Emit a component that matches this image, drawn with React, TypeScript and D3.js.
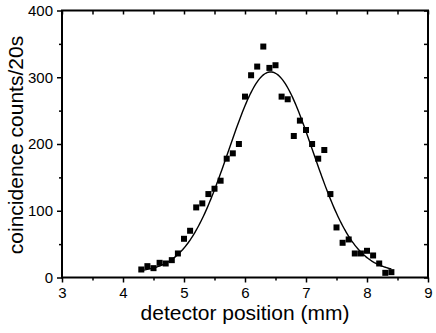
import React, { useRef, useEffect } from 'react'
import * as d3 from 'd3'

// detector position (mm) and counts per 20 s
const positions = [
  4.3, 4.4, 4.5, 4.6, 4.7, 4.8, 4.9, 5.0, 5.1, 5.2, 5.3, 5.4, 5.5, 5.6,
  5.7, 5.8, 5.9, 6.0, 6.1, 6.2, 6.3, 6.4, 6.5, 6.6, 6.7, 6.8, 6.9, 7.0,
  7.1, 7.2, 7.3, 7.4, 7.5, 7.6, 7.7, 7.8, 7.9, 8.0, 8.1, 8.2, 8.3, 8.4,
]
const counts = [
  12, 17, 14, 22, 21, 26, 36, 58, 70, 105, 111, 125, 133, 145,
  178, 186, 200, 271, 303, 316, 346, 314, 318, 271, 267, 212, 235, 221,
  200, 178, 191, 125, 75, 52, 57, 36, 36, 40, 33, 21, 7, 8,
]

// gaussian fit: y0 + A * exp(-(x - xc)^2 / (2 w^2))
const fit = { y0: 8, A: 300, xc: 6.42, w: 0.69, from: 4.3, to: 8.4 }

const xTicks = [3, 4, 5, 6, 7, 8, 9]
const yTicks = [0, 100, 200, 300, 400]

const xLabel = 'detector position (mm)'
const yLabel = 'coincidence counts/20s'

const App = () => {
  const ref = useRef<SVGSVGElement>(null)

  useEffect(() => {
    const W = 436
    const H = 333
    const left = 62, right = 428, top = 10.5, bottom = 277.5
    const font = '"Liberation Sans", Arial, sans-serif'

    const svg = d3.select(ref.current)
    svg.selectAll('*').remove()

    const x = d3.scaleLinear().domain([3, 9]).range([left, right])
    const y = d3.scaleLinear().domain([0, 400]).range([bottom, top])

    const xMinor = d3.range(3, 9.01, 0.5).filter(v => !xTicks.includes(v))
    const yMinor = d3.range(0, 401, 50).filter(v => !yTicks.includes(v))

    // bottom axis, ticks out
    const gx = svg.append('g').attr('transform', `translate(0, ${bottom})`)
      .call(d3.axisBottom(x).tickValues(xTicks).tickSize(5).tickPadding(5).tickFormat(d3.format('d')))
    gx.select('.domain').remove()
    gx.selectAll('text').attr('font-size', 15).attr('font-family', font)
    svg.append('g').attr('transform', `translate(0, ${bottom})`)
      .call(d3.axisBottom(x).tickValues(xMinor).tickSize(3).tickFormat(() => ''))
      .select('.domain').remove()

    // left axis, ticks out
    const gy = svg.append('g').attr('transform', `translate(${left}, 0)`)
      .call(d3.axisLeft(y).tickValues(yTicks).tickSize(5).tickPadding(4))
    gy.select('.domain').remove()
    gy.selectAll('text').attr('font-size', 15).attr('font-family', font)
    svg.append('g').attr('transform', `translate(${left}, 0)`)
      .call(d3.axisLeft(y).tickValues(yMinor).tickSize(3).tickFormat(() => ''))
      .select('.domain').remove()

    // top and right mirror ticks, pointing in
    svg.append('g').attr('transform', `translate(0, ${top})`)
      .call(d3.axisTop(x).tickValues(d3.range(3, 9.01, 0.5)).tickSize(-4).tickFormat(() => ''))
      .select('.domain').remove()
    svg.append('g').attr('transform', `translate(${right}, 0)`)
      .call(d3.axisRight(y).tickValues(d3.range(0, 401, 50)).tickSize(-4).tickFormat(() => ''))
      .select('.domain').remove()

    svg.selectAll('.tick line').attr('stroke', '#000').attr('stroke-width', 1.5)

    // frame
    svg.append('rect')
      .attr('x', left).attr('y', top)
      .attr('width', right - left).attr('height', bottom - top)
      .attr('fill', 'none').attr('stroke', '#000').attr('stroke-width', 2)

    // fit curve
    const xs = d3.range(fit.from, fit.to + 1e-9, 0.02)
    const gauss = (v: number) => fit.y0 + fit.A * Math.exp(-((v - fit.xc) ** 2) / (2 * fit.w ** 2))
    svg.append('path')
      .datum(xs)
      .attr('fill', 'none')
      .attr('stroke', '#000')
      .attr('stroke-width', 1.4)
      .attr('d', d3.line<number>().x(d => x(d)).y(d => y(gauss(d))))

    // data points
    const pts = positions.map((p, i) => ({ p, c: counts[i] }))
    svg.append('g')
      .selectAll('rect')
      .data(pts)
      .enter()
      .append('rect')
      .attr('x', d => x(d.p) - 3)
      .attr('y', d => y(d.c) - 3)
      .attr('width', 6)
      .attr('height', 6)
      .attr('fill', '#000')

    // axis titles
    svg.append('text')
      .attr('x', (left + right) / 2).attr('y', 320)
      .attr('text-anchor', 'middle')
      .attr('font-size', 21).attr('font-family', font)
      .text(xLabel)
    svg.append('text')
      .attr('transform', `translate(23, ${(top + bottom) / 2 + 1}) rotate(-90)`)
      .attr('text-anchor', 'middle')
      .attr('font-size', 21).attr('font-family', font)
      .text(yLabel)

    svg.attr('width', W).attr('height', H)
  }, [])

  return (
    <svg ref={ref} width={436} height={333}
      style={{ position: 'absolute', left: 0, top: 0, background: '#fff' }} />
  )
}

export default App
